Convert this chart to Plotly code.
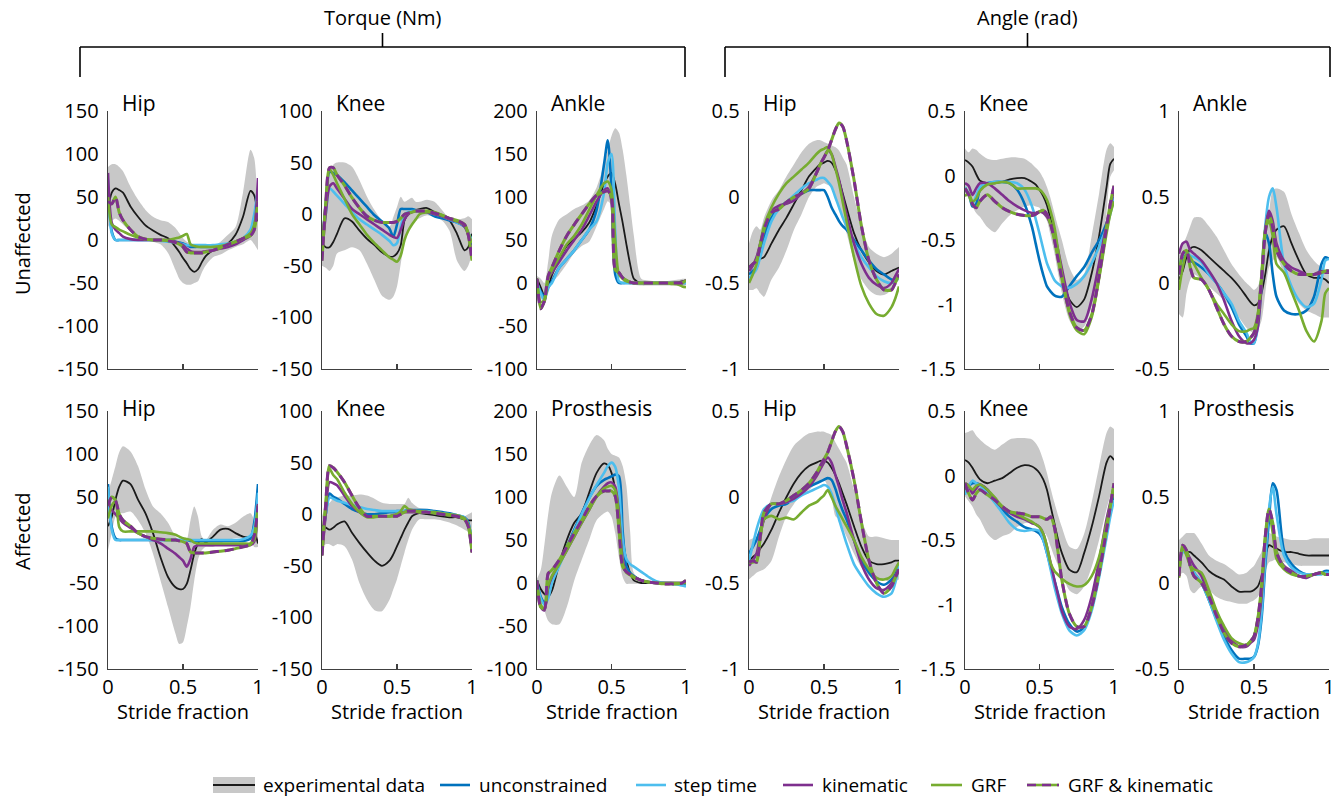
import plotly.graph_objects as go

W, H = 1343, 798
FONT = "Open Sans"

# ---------------- data ----------------
X = [0, .025, .05, .075, .1, .15, .2, .25, .3, .35, .4, .45, .475, .5, .525, .55,
     .575, .6, .625, .65, .7, .75, .8, .85, .9, .95, .975, 1]

# Unaffected hip torque (Nm)
U_HIP_T_UP = [85, 88, 88, 85, 80, 62, 47, 35, 27, 23, 21, 14, 8, 2, -2, -4, -8, -10, -9, -8, -8, -2, 6, 15, 55, 105, 95, 20]
U_HIP_T_LO = [15, 22, 25, 22, 18, 10, 5, 2, -2, -5, -15, -35, -45, -50, -52, -52, -50, -48, -38, -30, -20, -17, -12, -8, -5, 0, -5, -12]
U_HIP_T_EXP = [35, 55, 60, 58, 55, 39, 27, 17, 11, 6, 2, -8, -14, -21, -27, -34, -37, -34, -26, -19, -12, -8, -4, 6, 27, 57, 52, 22]
U_HIP_T_UNC = [60, 10, 0, 0, 0, 0, 0, 0, 0, 0, -1, -2, -3, -4, -6, -8, -8, -8, -8, -8, -8, -7, -5, -3, 0, 8, 25, 55]
U_HIP_T_STEP = [70, 8, 0, 0, 0, 0, 0, 0, 0, -1, -2, -3, -4, -5, -6, -6, -6, -6, -6, -6, -6, -5, -4, -2, 2, 12, 30, 60]
U_HIP_T_KIN = [78, 20, 12, 8, 4, 1, 0, 0, 0, 0, 0, -2, -4, -6, -10, -13, -14, -14, -14, -13, -12, -10, -8, -5, 0, 5, 15, 72]
U_HIP_T_GRF = [50, 18, 15, 12, 10, 6, 3, 1, 0, 0, 0, 2, 3, 5, 7, -5, -7, -8, -8, -8, -8, -7, -5, -2, 2, 8, 18, 45]
U_HIP_T_GK = [45, 42, 50, 32, 23, 12, 4, 1, 0, 0, -1, -3, -5, -8, -14, -15, -15, -15, -15, -14, -12, -9, -5, -2, 2, 5, 12, 45]

# Unaffected knee torque
U_KNEE_T_UP = [-15, 15, 40, 48, 50, 50, 46, 33, 17, 4, -6, -12, -3, 7, 17, 12, 14, 16, 12, 12, 14, 12, 4, -4, -5, -4, -2, -5]
U_KNEE_T_LO = [-50, -52, -55, -50, -38, -35, -32, -35, -48, -64, -79, -83, -80, -70, -48, -25, -15, -9, -6, -4, -1, -3, -6, -16, -45, -55, -50, -38]
U_KNEE_T_EXP = [-28, -32, -32, -27, -19, -4, -7, -16, -24, -30, -37, -41, -41, -38, -30, -6, 0, 2, 4, 5, 6, 2, -1, -6, -19, -35, -32, -19]
U_KNEE_T_UNC = [-30, 10, 41, 40, 38, 31, 23, 15, 7, -1, -7, -14, -22, -10, 5, 5, 5, 5, 4, 3, 2, -2, -4, -6, -8, -12, -18, -30]
U_KNEE_T_STEP = [-30, 0, 25, 22, 18, 10, 2, -5, -10, -15, -20, -26, -30, -28, -12, 0, 2, 3, 3, 3, 2, 0, -2, -5, -8, -12, -18, -25]
U_KNEE_T_KIN = [-40, 0, 27, 30, 25, 15, 5, 0, -5, -10, -15, -20, -22, -23, -15, -5, 0, 2, 3, 3, 2, 0, -2, -5, -7, -12, -20, -40]
U_KNEE_T_GRF = [-30, 10, 44, 38, 30, 15, 0, -10, -20, -28, -35, -42, -44, -46, -40, -25, -16, -10, -5, 0, 2, 2, -1, -4, -7, -10, -18, -28]
U_KNEE_T_GK = [-45, 10, 45, 45, 38, 28, 16, 6, -2, -6, -8, -8, -8, -7, -4, 0, 1, 2, 3, 3, 3, 1, -1, -4, -6, -10, -20, -45]

# Unaffected ankle torque
U_ANK_T_UP = [8, 5, 0, 25, 55, 74, 80, 86, 90, 96, 111, 138, 155, 171, 180, 175, 155, 125, 90, 55, 5, 3, 2, 2, 3, 4, 5, 5]
U_ANK_T_LO = [-8, -18, -22, -12, 0, 10, 22, 35, 43, 48, 66, 86, 95, 90, 60, 15, 3, 0, -2, -2, -3, -3, -3, -3, -3, -3, -3, -3]
U_ANK_T_EXP = [5, -5, -15, -5, 9, 28, 43, 51, 59, 70, 90, 115, 124, 128, 115, 92, 70, 45, 22, 5, 0, 0, 0, 0, 0, 1, 2, 3]
U_ANK_T_UNC = [0, -10, -15, -5, 2, 18, 28, 38, 50, 62, 85, 138, 166, 110, 10, 0, 0, 0, 0, 0, 0, 0, 0, 0, 0, 0, 0, 0]
U_ANK_T_STEP = [0, -12, -20, -5, 0, 18, 28, 38, 50, 62, 72, 105, 140, 150, 60, 2, 0, 0, 0, 0, 0, 0, 0, 0, 0, 0, 0, 0]
U_ANK_T_KIN = [0, -28, -22, 5, 12, 25, 38, 50, 62, 78, 95, 108, 110, 95, 18, 12, 6, 3, 1, 0, 0, 0, 0, 0, 0, 0, 1, 3]
U_ANK_T_GRF = [0, -22, -20, 5, 15, 30, 45, 55, 68, 85, 102, 116, 118, 108, 50, 10, 5, 2, 1, 0, 0, 0, 0, 0, -1, -2, -4, -5]
U_ANK_T_GK = [5, -30, -20, 8, 18, 38, 55, 68, 80, 92, 102, 106, 107, 100, 15, 12, 6, 3, 1, 0, 0, 0, 0, 0, 0, 0, 0, 3]

# Unaffected hip angle (rad)
U_HIP_A_UP = [-0.27, -0.2, -0.17, -0.19, -0.12, -0.02, 0.04, 0.12, 0.19, 0.26, 0.31, 0.33, 0.33, 0.32, 0.31, 0.3, 0.29, 0.27, 0.23, 0.19, 0.0, -0.17, -0.29, -0.33, -0.35, -0.33, -0.31, -0.29]
U_HIP_A_LO = [-0.54, -0.54, -0.53, -0.56, -0.58, -0.48, -0.41, -0.31, -0.19, -0.1, 0.0, 0.06, 0.07, 0.08, 0.07, 0.06, 0.0, -0.06, -0.13, -0.21, -0.37, -0.48, -0.54, -0.57, -0.57, -0.54, -0.51, -0.48]
U_HIP_A_EXP = [-0.41, -0.39, -0.37, -0.36, -0.35, -0.27, -0.19, -0.12, -0.04, 0.04, 0.12, 0.17, 0.19, 0.2, 0.21, 0.2, 0.16, 0.1, 0.02, -0.06, -0.21, -0.31, -0.38, -0.43, -0.45, -0.43, -0.42, -0.41]
U_HIP_A_UNC = [-0.45, -0.43, -0.41, -0.32, -0.23, -0.12, -0.06, -0.03, 0.0, 0.02, 0.04, 0.04, 0.04, 0.04, 0.0, -0.06, -0.1, -0.14, -0.17, -0.19, -0.25, -0.31, -0.37, -0.42, -0.45, -0.48, -0.48, -0.47]
U_HIP_A_STEP = [-0.47, -0.45, -0.42, -0.35, -0.27, -0.14, -0.07, -0.03, 0.01, 0.05, 0.08, 0.1, 0.11, 0.11, 0.09, 0.06, 0.0, -0.06, -0.12, -0.17, -0.27, -0.35, -0.41, -0.46, -0.49, -0.5, -0.49, -0.47]
U_HIP_A_KIN = [-0.43, -0.4, -0.35, -0.27, -0.19, -0.08, -0.05, -0.04, -0.02, 0.02, 0.06, 0.14, 0.19, 0.23, 0.27, 0.25, 0.18, 0.1, 0.0, -0.1, -0.27, -0.39, -0.47, -0.51, -0.53, -0.5, -0.46, -0.42]
U_HIP_A_GRF = [-0.5, -0.45, -0.39, -0.27, -0.17, -0.06, 0.02, 0.08, 0.12, 0.16, 0.2, 0.25, 0.27, 0.28, 0.29, 0.25, 0.17, 0.08, -0.03, -0.14, -0.35, -0.52, -0.62, -0.68, -0.69, -0.64, -0.59, -0.52]
U_HIP_A_GK = [-0.41, -0.39, -0.37, -0.28, -0.19, -0.09, -0.07, -0.03, 0.0, 0.02, 0.05, 0.14, 0.19, 0.23, 0.27, 0.33, 0.39, 0.43, 0.41, 0.33, 0.1, -0.17, -0.37, -0.48, -0.54, -0.54, -0.5, -0.45]

# Unaffected knee angle
U_KNEE_A_UP = [0.21, 0.18, 0.21, 0.2, 0.17, 0.13, 0.12, 0.13, 0.14, 0.14, 0.13, 0.09, 0.06, 0.03, -0.02, -0.09, -0.18, -0.29, -0.4, -0.5, -0.71, -0.81, -0.76, -0.47, -0.14, 0.2, 0.25, 0.22]
U_KNEE_A_LO = [-0.14, -0.16, -0.24, -0.29, -0.32, -0.4, -0.44, -0.37, -0.31, -0.27, -0.24, -0.23, -0.24, -0.25, -0.3, -0.35, -0.47, -0.6, -0.76, -0.91, -1.12, -1.2, -1.17, -1.02, -0.76, -0.29, -0.01, 0.04]
U_KNEE_A_EXP = [0.12, 0.1, 0.07, 0.01, -0.04, -0.06, -0.06, -0.05, -0.03, -0.02, -0.02, -0.05, -0.07, -0.11, -0.16, -0.23, -0.34, -0.47, -0.62, -0.76, -0.96, -1.02, -0.96, -0.76, -0.47, -0.09, 0.09, 0.13]
U_KNEE_A_UNC = [-0.11, -0.14, -0.24, -0.22, -0.11, -0.06, -0.05, -0.05, -0.06, -0.11, -0.22, -0.4, -0.53, -0.66, -0.77, -0.86, -0.9, -0.93, -0.94, -0.94, -0.86, -0.78, -0.71, -0.6, -0.5, -0.37, -0.27, -0.17]
U_KNEE_A_STEP = [-0.09, -0.14, -0.22, -0.16, -0.09, -0.06, -0.05, -0.05, -0.05, -0.06, -0.11, -0.24, -0.34, -0.45, -0.57, -0.68, -0.75, -0.81, -0.84, -0.86, -0.87, -0.84, -0.78, -0.68, -0.55, -0.4, -0.3, -0.17]
U_KNEE_A_KIN = [-0.06, -0.08, -0.15, -0.1, -0.06, -0.06, -0.1, -0.15, -0.2, -0.24, -0.27, -0.29, -0.29, -0.28, -0.29, -0.32, -0.38, -0.45, -0.58, -0.72, -0.98, -1.12, -1.13, -0.96, -0.68, -0.38, -0.25, -0.1]
U_KNEE_A_GRF = [-0.16, -0.14, -0.2, -0.18, -0.12, -0.07, -0.06, -0.05, -0.06, -0.1, -0.1, -0.1, -0.1, -0.11, -0.14, -0.19, -0.28, -0.4, -0.58, -0.76, -1.07, -1.2, -1.23, -1.1, -0.8, -0.45, -0.3, -0.2]
U_KNEE_A_GK = [-0.1, -0.15, -0.22, -0.25, -0.2, -0.15, -0.2, -0.25, -0.28, -0.3, -0.31, -0.31, -0.3, -0.28, -0.27, -0.3, -0.38, -0.5, -0.65, -0.8, -1.05, -1.18, -1.2, -1.08, -0.78, -0.4, -0.22, -0.08]

# Unaffected ankle angle
U_ANK_A_UP = [0.17, 0.22, 0.27, 0.33, 0.38, 0.38, 0.33, 0.27, 0.19, 0.11, 0.05, 0.0, -0.02, -0.04, -0.02, 0.05, 0.2, 0.4, 0.54, 0.55, 0.53, 0.4, 0.29, 0.19, 0.13, 0.09, 0.07, 0.05]
U_ANK_A_LO = [-0.18, -0.2, -0.06, 0.02, 0.05, 0.02, -0.02, -0.06, -0.1, -0.14, -0.2, -0.26, -0.28, -0.29, -0.27, -0.22, -0.06, 0.09, 0.13, 0.15, 0.05, -0.04, -0.12, -0.16, -0.18, -0.2, -0.2, -0.2]
U_ANK_A_EXP = [0.02, 0.07, 0.15, 0.2, 0.21, 0.19, 0.15, 0.11, 0.07, 0.03, -0.02, -0.08, -0.11, -0.13, -0.12, -0.06, 0.05, 0.19, 0.27, 0.31, 0.33, 0.23, 0.13, 0.05, 0.03, 0.03, 0.02, 0.0]
U_ANK_A_UNC = [0.05, 0.15, 0.17, 0.13, 0.12, 0.09, 0.05, 0.0, -0.06, -0.14, -0.24, -0.31, -0.35, -0.35, -0.22, 0.03, 0.29, 0.23, 0.05, -0.08, -0.16, -0.18, -0.18, -0.16, -0.08, 0.11, 0.15, 0.14]
U_ANK_A_STEP = [0.09, 0.16, 0.18, 0.16, 0.15, 0.12, 0.05, 0.0, -0.06, -0.12, -0.22, -0.29, -0.34, -0.35, -0.26, -0.02, 0.33, 0.5, 0.55, 0.44, 0.11, -0.02, -0.1, -0.14, -0.12, 0.02, 0.13, 0.14]
U_ANK_A_KIN = [0.17, 0.23, 0.24, 0.19, 0.17, 0.13, 0.07, 0.0, -0.1, -0.22, -0.31, -0.35, -0.35, -0.33, -0.26, -0.02, 0.31, 0.42, 0.36, 0.23, 0.13, 0.09, 0.07, 0.05, 0.05, 0.07, 0.06, 0.06]
U_ANK_A_GRF = [-0.04, 0.09, 0.17, 0.15, 0.11, 0.03, -0.04, -0.12, -0.18, -0.24, -0.28, -0.28, -0.27, -0.26, -0.18, 0.05, 0.31, 0.36, 0.27, 0.11, 0.06, -0.05, -0.16, -0.28, -0.34, -0.22, -0.06, -0.03]
U_ANK_A_GK = [0.05, 0.17, 0.19, 0.09, 0.03, 0.02, -0.04, -0.14, -0.24, -0.31, -0.34, -0.34, -0.32, -0.29, -0.2, 0.02, 0.29, 0.4, 0.32, 0.19, 0.11, 0.07, 0.05, 0.05, 0.05, 0.06, 0.07, 0.07]

# Affected hip torque
A_HIP_T_UP = [55, 70, 86, 102, 109, 103, 86, 59, 39, 31, 20, 4, 0, -4, 0, 23, 39, 27, 4, 0, 12, 18, 16, 20, 27, 31, 23, 16]
A_HIP_T_LO = [-12, 8, 27, 31, 31, 33, 23, 8, -16, -47, -78, -109, -121, -119, -101, -78, -47, -23, -12, -8, -8, -4, 0, 2, 2, 0, -8, -8]
A_HIP_T_EXP = [16, 27, 47, 62, 69, 65, 47, 31, 8, -20, -43, -55, -57, -57, -51, -35, -16, -4, 1, -3, 4, 12, 13, 8, 4, 4, 8, -4]
A_HIP_T_UNC = [65, 15, 2, 0, 0, 0, 0, 0, 0, 0, 0, 0, 0, 0, 0, -1, -1, -1, -1, -1, -1, -1, -1, -1, -1, 2, 20, 65]
A_HIP_T_STEP = [62, 12, 0, 0, 0, 0, 0, 0, 0, 0, 0, 0, 0, 0, 0, 0, 0, 0, 0, 0, 0, 0, 0, 0, 1, 5, 15, 55]
A_HIP_T_KIN = [45, 35, 30, 25, 20, 14, 8, 4, 0, -4, -10, -16, -20, -24, -31, -22, -8, -6, -6, -6, -6, -6, -6, -6, -6, -6, -2, 42]
A_HIP_T_GRF = [25, 40, 45, 15, 10, 10, 10, 10, 10, 9, 8, 6, 4, 2, 1, 0, -3, -4, -4, -4, -4, -4, -4, -4, -4, -4, 0, 38]
A_HIP_T_GK = [40, 50, 46, 30, 23, 16, 8, 4, 2, 1, 0, 0, -1, -2, -4, -14, -15, -15, -15, -15, -14, -13, -12, -10, -8, -5, 5, 40]

# Affected knee torque
A_KNEE_T_UP = [-2, 8, 11, 15, 16, 18, 18, 19, 18, 15, 11, 10, 10, 10, 10, 10, 16, 11, 8, 6, 5, 3, 2, 2, -2, -2, 0, 2]
A_KNEE_T_LO = [-31, -29, -29, -31, -29, -31, -44, -67, -83, -93, -94, -83, -73, -63, -50, -37, -25, -15, -9, -5, -5, -5, -6, -8, -11, -15, -17, -18]
A_KNEE_T_EXP = [-11, -13, -15, -13, -10, -7, -18, -28, -37, -45, -50, -45, -39, -31, -23, -15, -8, -2, 0, 1, 0, -1, -2, -3, -3, -5, -6, -6]
A_KNEE_T_UNC = [-28, 0, 20, 17, 15, 10, 5, 2, 0, 0, 1, 2, 2, 3, 3, 3, 4, 4, 4, 4, 4, 3, 2, 1, -1, -3, -8, -30]
A_KNEE_T_STEP = [-25, 0, 16, 15, 13, 11, 9, 7, 5, 4, 3, 3, 3, 3, 3, 3, 3, 3, 3, 3, 3, 2, 1, 0, -1, -3, -10, -22]
A_KNEE_T_KIN = [-40, 0, 31, 30, 28, 18, 8, 2, -2, -2, -2, -2, -1, 0, 1, 2, 2, 2, 2, 2, 2, 1, 0, -1, -2, -4, -11, -37]
A_KNEE_T_GRF = [-31, 10, 44, 38, 34, 21, 10, 2, -3, -3, -2, -2, -1, 0, 3, 8, 5, 4, 3, 3, 2, 2, 1, 0, -1, -4, -10, -24]
A_KNEE_T_GK = [-40, 10, 47, 45, 41, 31, 18, 6, -2, -2, -2, -2, -2, -2, 0, 2, 3, 3, 3, 2, 2, 1, 0, -1, -2, -5, -12, -37]

# Affected prosthesis torque
A_PRO_T_UP = [5, 15, 45, 80, 105, 125, 112, 100, 140, 160, 172, 166, 156, 150, 148, 146, 136, 113, 60, 12, 3, 2, 2, 2, 2, 2, 2, 2]
A_PRO_T_LO = [-5, -16, -32, -44, -48, -48, -28, 3, 27, 50, 73, 81, 83, 77, 58, 30, 7, -1, -1, -1, -1, -1, -1, -1, -1, -1, -1, -1]
A_PRO_T_EXP = [3, -7, -13, -16, -9, 23, 50, 70, 81, 105, 128, 139, 137, 128, 109, 81, 50, 27, 11, 3, 0, 0, 0, 0, 0, 0, 0, 0]
A_PRO_T_UNC = [3, -16, -22, -13, 3, 23, 42, 62, 81, 99, 113, 120, 122, 124, 126, 124, 60, 20, 12, 8, 3, 1, 0, 0, 0, -1, -2, -3]
A_PRO_T_STEP = [0, -18, -25, -18, 0, 20, 40, 60, 80, 98, 114, 128, 136, 140, 135, 110, 50, 28, 22, 19, 13, 7, 2, 0, -1, -2, -3, -4]
A_PRO_T_KIN = [1, -28, -32, -5, 7, 23, 38, 54, 70, 85, 101, 112, 116, 117, 112, 81, 27, 13, 10, 7, 3, 1, 0, 0, 0, 0, 0, 3]
A_PRO_T_GRF = [0, -25, -30, -3, 8, 22, 38, 54, 70, 85, 100, 110, 112, 113, 108, 78, 23, 12, 9, 6, 3, 1, 0, 0, 0, 0, 0, 0]
A_PRO_T_GK = [3, -28, -30, 11, 15, 27, 42, 58, 73, 89, 101, 107, 107, 107, 101, 62, 19, 13, 10, 7, 3, 1, 0, -1, -1, -1, 0, 3]

# Affected hip angle
A_HIP_A_UP = [-0.25, -0.24, -0.23, -0.18, -0.13, 0.0, 0.12, 0.22, 0.3, 0.34, 0.37, 0.38, 0.38, 0.38, 0.37, 0.36, 0.32, 0.28, 0.24, 0.2, 0.04, -0.13, -0.23, -0.23, -0.24, -0.25, -0.25, -0.25]
A_HIP_A_LO = [-0.48, -0.46, -0.44, -0.43, -0.42, -0.37, -0.23, -0.11, -0.04, 0.01, 0.04, 0.08, 0.09, 0.1, 0.06, 0.0, -0.11, -0.13, -0.18, -0.23, -0.33, -0.41, -0.46, -0.48, -0.48, -0.5, -0.49, -0.48]
A_HIP_A_EXP = [-0.37, -0.35, -0.33, -0.3, -0.27, -0.19, -0.09, 0.0, 0.08, 0.14, 0.18, 0.2, 0.21, 0.21, 0.2, 0.17, 0.13, 0.08, 0.02, -0.04, -0.17, -0.29, -0.37, -0.39, -0.39, -0.38, -0.37, -0.37]
A_HIP_A_UNC = [-0.33, -0.29, -0.25, -0.19, -0.13, -0.07, -0.05, -0.04, 0.0, 0.04, 0.06, 0.08, 0.09, 0.1, 0.11, 0.1, 0.05, -0.02, -0.08, -0.13, -0.25, -0.37, -0.44, -0.49, -0.51, -0.48, -0.45, -0.4]
A_HIP_A_STEP = [-0.37, -0.28, -0.19, -0.12, -0.07, -0.04, -0.04, -0.03, -0.02, 0.01, 0.03, 0.05, 0.06, 0.07, 0.06, 0.02, -0.05, -0.13, -0.2, -0.27, -0.39, -0.46, -0.52, -0.56, -0.58, -0.56, -0.5, -0.4]
A_HIP_A_KIN = [-0.4, -0.37, -0.33, -0.22, -0.13, -0.04, -0.04, -0.03, -0.01, 0.02, 0.06, 0.12, 0.16, 0.2, 0.23, 0.2, 0.13, 0.06, -0.02, -0.09, -0.25, -0.39, -0.48, -0.53, -0.54, -0.5, -0.46, -0.42]
A_HIP_A_GRF = [-0.38, -0.38, -0.37, -0.25, -0.13, -0.11, -0.13, -0.12, -0.13, -0.09, -0.05, -0.03, -0.01, 0.01, 0.04, 0.0, -0.05, -0.09, -0.13, -0.17, -0.25, -0.35, -0.42, -0.47, -0.48, -0.46, -0.42, -0.38]
A_HIP_A_GK = [-0.38, -0.37, -0.38, -0.23, -0.09, -0.04, -0.04, -0.02, 0.01, 0.04, 0.08, 0.14, 0.18, 0.22, 0.26, 0.32, 0.38, 0.41, 0.38, 0.3, 0.1, -0.15, -0.37, -0.5, -0.56, -0.52, -0.47, -0.42]

# Affected knee angle
A_KNEE_A_UP = [0.33, 0.34, 0.35, 0.31, 0.28, 0.23, 0.2, 0.24, 0.28, 0.29, 0.29, 0.28, 0.25, 0.2, 0.12, 0.02, -0.1, -0.21, -0.31, -0.4, -0.55, -0.57, -0.45, -0.21, 0.07, 0.33, 0.38, 0.36]
A_KNEE_A_LO = [-0.16, -0.2, -0.24, -0.3, -0.34, -0.45, -0.5, -0.47, -0.45, -0.4, -0.37, -0.37, -0.38, -0.4, -0.43, -0.47, -0.55, -0.63, -0.7, -0.76, -0.89, -0.92, -0.86, -0.71, -0.5, -0.26, -0.16, -0.11]
A_KNEE_A_EXP = [0.12, 0.1, 0.06, 0.01, -0.03, -0.06, -0.04, -0.02, 0.02, 0.06, 0.08, 0.07, 0.05, 0.02, -0.03, -0.11, -0.24, -0.37, -0.5, -0.6, -0.73, -0.75, -0.6, -0.4, -0.16, 0.1, 0.15, 0.12]
A_KNEE_A_UNC = [-0.11, -0.08, -0.06, -0.06, -0.07, -0.11, -0.19, -0.26, -0.32, -0.36, -0.4, -0.42, -0.43, -0.45, -0.5, -0.6, -0.71, -0.81, -0.92, -1.02, -1.15, -1.21, -1.18, -1.02, -0.73, -0.4, -0.26, -0.16]
A_KNEE_A_STEP = [-0.15, -0.08, -0.04, -0.06, -0.08, -0.14, -0.21, -0.29, -0.37, -0.42, -0.43, -0.42, -0.42, -0.43, -0.5, -0.6, -0.73, -0.86, -0.97, -1.07, -1.2, -1.24, -1.2, -1.05, -0.79, -0.48, -0.32, -0.19]
A_KNEE_A_KIN = [-0.06, -0.08, -0.14, -0.1, -0.07, -0.11, -0.19, -0.25, -0.29, -0.32, -0.34, -0.37, -0.38, -0.4, -0.45, -0.55, -0.68, -0.81, -0.93, -1.05, -1.17, -1.19, -1.12, -0.94, -0.66, -0.34, -0.21, -0.08]
A_KNEE_A_GRF = [-0.06, -0.08, -0.11, -0.08, -0.07, -0.11, -0.17, -0.24, -0.28, -0.3, -0.33, -0.36, -0.38, -0.4, -0.45, -0.55, -0.68, -0.74, -0.77, -0.8, -0.84, -0.86, -0.85, -0.78, -0.63, -0.37, -0.24, -0.11]
A_KNEE_A_GK = [-0.06, -0.14, -0.19, -0.14, -0.11, -0.15, -0.19, -0.24, -0.28, -0.29, -0.3, -0.32, -0.32, -0.32, -0.33, -0.34, -0.32, -0.4, -0.6, -0.81, -1.07, -1.17, -1.17, -1.02, -0.76, -0.42, -0.24, -0.06]

# Affected prosthesis angle
A_PRO_A_UP = [0.25, 0.27, 0.29, 0.29, 0.29, 0.23, 0.16, 0.13, 0.11, 0.08, 0.05, 0.06, 0.08, 0.1, 0.14, 0.18, 0.27, 0.29, 0.28, 0.27, 0.26, 0.25, 0.25, 0.25, 0.26, 0.26, 0.26, 0.26]
A_PRO_A_LO = [0.04, 0.06, 0.04, -0.04, -0.06, -0.02, -0.04, -0.08, -0.1, -0.11, -0.12, -0.12, -0.11, -0.1, -0.08, -0.04, 0.06, 0.12, 0.13, 0.14, 0.12, 0.11, 0.1, 0.1, 0.1, 0.1, 0.1, 0.1]
A_PRO_A_EXP = [0.14, 0.18, 0.18, 0.18, 0.16, 0.12, 0.07, 0.04, 0.02, -0.02, -0.05, -0.05, -0.05, -0.04, -0.02, 0.04, 0.16, 0.22, 0.21, 0.2, 0.18, 0.18, 0.17, 0.16, 0.16, 0.16, 0.16, 0.16]
A_PRO_A_UNC = [0.07, 0.19, 0.18, 0.1, 0.06, 0.0, -0.1, -0.21, -0.31, -0.39, -0.44, -0.44, -0.44, -0.43, -0.37, -0.21, 0.1, 0.37, 0.58, 0.54, 0.19, 0.11, 0.07, 0.05, 0.05, 0.06, 0.07, 0.07]
A_PRO_A_STEP = [0.05, 0.18, 0.17, 0.1, 0.06, 0.0, -0.1, -0.22, -0.33, -0.41, -0.46, -0.46, -0.45, -0.43, -0.36, -0.18, 0.14, 0.43, 0.56, 0.4, 0.16, 0.09, 0.06, 0.05, 0.05, 0.05, 0.06, 0.06]
A_PRO_A_KIN = [0.04, 0.21, 0.18, 0.14, 0.1, 0.04, -0.08, -0.18, -0.27, -0.33, -0.37, -0.37, -0.35, -0.33, -0.25, -0.08, 0.25, 0.41, 0.33, 0.18, 0.1, 0.07, 0.04, 0.03, 0.05, 0.06, 0.05, 0.05]
A_PRO_A_GRF = [0.03, 0.21, 0.16, 0.1, 0.08, 0.06, -0.04, -0.16, -0.25, -0.32, -0.35, -0.36, -0.34, -0.31, -0.21, -0.04, 0.27, 0.41, 0.29, 0.14, 0.08, 0.05, 0.04, 0.04, 0.05, 0.06, 0.05, 0.05]
A_PRO_A_GK = [0.04, 0.22, 0.19, 0.1, 0.04, 0.0, -0.08, -0.19, -0.29, -0.35, -0.37, -0.36, -0.34, -0.31, -0.21, -0.02, 0.27, 0.43, 0.35, 0.18, 0.09, 0.06, 0.04, 0.04, 0.05, 0.06, 0.05, 0.05]

PANEL_TITLES = ["Hip", "Knee", "Ankle", "Hip", "Knee", "Ankle",
                "Hip", "Knee", "Prosthesis", "Hip", "Knee", "Prosthesis"]
Y_TICKS = {
    "hipT": [-150, -100, -50, 0, 50, 100, 150],
    "kneeT": [-150, -100, -50, 0, 50, 100],
    "ankT": [-100, -50, 0, 50, 100, 150, 200],
    "hipA": [-1, -0.5, 0, 0.5],
    "kneeA": [-1.5, -1, -0.5, 0, 0.5],
    "ankA": [-0.5, 0, 0.5, 1],
}
X_TICKS = [0, 0.5, 1]
X_TICKTEXT = ["0", "0.5", "1"]
LEGEND_LABELS = ["experimental data", "unconstrained", "step time", "kinematic", "GRF", "GRF & kinematic"]

# ---------------- styling ----------------
C_BAND = "rgb(200,200,200)"
C_EXP = "#1a1a1a"
C_UNC = "#0072BD"
C_STEP = "#4DBEEE"
C_KIN = "#7E2F8E"
C_GRF = "#77AC30"
C_AX = "#404040"
LW = 2.6
DASH = "9px,6px"
SMOOTH = 0.75

COL_PX = [(108, 258), (322, 472), (537, 686), (749, 899), (965, 1114), (1179, 1329)]
ROW_PX = [(111, 369), (411, 669)]
TITLE_Y = [103, 408]


def fx(p):
    return p / W


def fy(p):
    return 1 - p / H


series = [
    (U_HIP_T_UP, U_HIP_T_LO, U_HIP_T_EXP, U_HIP_T_UNC, U_HIP_T_STEP, U_HIP_T_KIN, U_HIP_T_GRF, U_HIP_T_GK, "hipT"),
    (U_KNEE_T_UP, U_KNEE_T_LO, U_KNEE_T_EXP, U_KNEE_T_UNC, U_KNEE_T_STEP, U_KNEE_T_KIN, U_KNEE_T_GRF, U_KNEE_T_GK, "kneeT"),
    (U_ANK_T_UP, U_ANK_T_LO, U_ANK_T_EXP, U_ANK_T_UNC, U_ANK_T_STEP, U_ANK_T_KIN, U_ANK_T_GRF, U_ANK_T_GK, "ankT"),
    (U_HIP_A_UP, U_HIP_A_LO, U_HIP_A_EXP, U_HIP_A_UNC, U_HIP_A_STEP, U_HIP_A_KIN, U_HIP_A_GRF, U_HIP_A_GK, "hipA"),
    (U_KNEE_A_UP, U_KNEE_A_LO, U_KNEE_A_EXP, U_KNEE_A_UNC, U_KNEE_A_STEP, U_KNEE_A_KIN, U_KNEE_A_GRF, U_KNEE_A_GK, "kneeA"),
    (U_ANK_A_UP, U_ANK_A_LO, U_ANK_A_EXP, U_ANK_A_UNC, U_ANK_A_STEP, U_ANK_A_KIN, U_ANK_A_GRF, U_ANK_A_GK, "ankA"),
    (A_HIP_T_UP, A_HIP_T_LO, A_HIP_T_EXP, A_HIP_T_UNC, A_HIP_T_STEP, A_HIP_T_KIN, A_HIP_T_GRF, A_HIP_T_GK, "hipT"),
    (A_KNEE_T_UP, A_KNEE_T_LO, A_KNEE_T_EXP, A_KNEE_T_UNC, A_KNEE_T_STEP, A_KNEE_T_KIN, A_KNEE_T_GRF, A_KNEE_T_GK, "kneeT"),
    (A_PRO_T_UP, A_PRO_T_LO, A_PRO_T_EXP, A_PRO_T_UNC, A_PRO_T_STEP, A_PRO_T_KIN, A_PRO_T_GRF, A_PRO_T_GK, "ankT"),
    (A_HIP_A_UP, A_HIP_A_LO, A_HIP_A_EXP, A_HIP_A_UNC, A_HIP_A_STEP, A_HIP_A_KIN, A_HIP_A_GRF, A_HIP_A_GK, "hipA"),
    (A_KNEE_A_UP, A_KNEE_A_LO, A_KNEE_A_EXP, A_KNEE_A_UNC, A_KNEE_A_STEP, A_KNEE_A_KIN, A_KNEE_A_GRF, A_KNEE_A_GK, "kneeA"),
    (A_PRO_A_UP, A_PRO_A_LO, A_PRO_A_EXP, A_PRO_A_UNC, A_PRO_A_STEP, A_PRO_A_KIN, A_PRO_A_GRF, A_PRO_A_GK, "ankA"),
]

for si, s in enumerate(series):
    for arr in s[:8]:
        assert len(arr) == len(X), (si, len(arr))

fig = go.Figure()
layout = dict(
    template="none",
    width=W, height=H, margin=dict(l=0, r=0, t=0, b=0, pad=0, autoexpand=False),
    paper_bgcolor="white", plot_bgcolor="rgba(0,0,0,0)",
    showlegend=False, font=dict(family=FONT, color="black", size=20),
)
annotations = []
shapes = []


def fmt(v):
    return "%g" % v


for k, s in enumerate(series):
    up, lo, exp, unc, stp, kin, grf, gk, tk = s
    row, col = divmod(k, 6)
    n = k + 1
    xa = "x" if n == 1 else "x%d" % n
    ya = "y" if n == 1 else "y%d" % n
    common = dict(x=X, xaxis=xa, yaxis=ya, mode="lines", hoverinfo="skip", showlegend=False)

    fig.add_trace(go.Scatter(y=lo, line=dict(width=0, shape="spline", smoothing=SMOOTH, color=C_BAND), **common))
    fig.add_trace(go.Scatter(y=up, line=dict(width=0, shape="spline", smoothing=SMOOTH, color=C_BAND),
                             fill="tonexty", fillcolor=C_BAND, **common))
    fig.add_trace(go.Scatter(y=exp, line=dict(width=1.8, shape="spline", smoothing=SMOOTH, color=C_EXP), **common))
    fig.add_trace(go.Scatter(y=unc, line=dict(width=LW, shape="spline", smoothing=SMOOTH, color=C_UNC), **common))
    fig.add_trace(go.Scatter(y=stp, line=dict(width=LW, shape="spline", smoothing=SMOOTH, color=C_STEP), **common))
    fig.add_trace(go.Scatter(y=kin, line=dict(width=LW, shape="spline", smoothing=SMOOTH, color=C_KIN), **common))
    fig.add_trace(go.Scatter(y=grf, line=dict(width=LW, shape="spline", smoothing=SMOOTH, color=C_GRF), **common))
    fig.add_trace(go.Scatter(y=gk, line=dict(width=LW + 0.4, shape="spline", smoothing=SMOOTH, color=C_GRF), **common))
    fig.add_trace(go.Scatter(y=gk, line=dict(width=LW + 0.4, shape="spline", smoothing=SMOOTH, color=C_KIN, dash=DASH), **common))

    x0, x1 = COL_PX[col]
    y0, y1 = ROW_PX[row]
    yt = Y_TICKS[tk]
    layout["xaxis" if n == 1 else "xaxis%d" % n] = dict(
        domain=[fx(x0), fx(x1)], range=[0, 1], anchor=ya, showline=True, linecolor=C_AX, linewidth=1.4,
        ticks="inside", ticklen=5, tickwidth=1.4, tickcolor=C_AX, tickvals=X_TICKS, ticktext=X_TICKTEXT,
        showticklabels=(row == 1), showgrid=False, zeroline=False, fixedrange=True, automargin=False,
        tickfont=dict(size=20, family=FONT, color="black"), ticklabelstandoff=0,
    )
    layout["yaxis" if n == 1 else "yaxis%d" % n] = dict(
        domain=[fy(y1), fy(y0)], range=[yt[0], yt[-1]], anchor=xa, showline=True, linecolor=C_AX, linewidth=1.4,
        ticks="", tickvals=yt, ticktext=[fmt(v) for v in yt], showgrid=False, zeroline=False, fixedrange=True,
        automargin=False, tickfont=dict(size=20, family=FONT, color="black"), ticklabelstandoff=4,
    )
    annotations.append(dict(text=PANEL_TITLES[k], xref="paper", yref="paper", x=fx(x0 + 12), y=fy(TITLE_Y[row]),
                            xanchor="left", yanchor="middle", showarrow=False, font=dict(size=21)))
    if row == 1:
        annotations.append(dict(text="Stride fraction", xref="paper", yref="paper", x=fx((x0 + x1) / 2),
                                y=fy(y1 + 42), xanchor="center", yanchor="middle", showarrow=False,
                                font=dict(size=20)))

# row labels
annotations.append(dict(text="Unaffected", xref="paper", yref="paper", x=fx(22), y=fy(244), textangle=-90,
                        showarrow=False, xanchor="center", yanchor="middle", font=dict(size=20)))
annotations.append(dict(text="Affected", xref="paper", yref="paper", x=fx(22), y=fy(531), textangle=-90,
                        showarrow=False, xanchor="center", yanchor="middle", font=dict(size=20)))

# group headers with brackets
for label, xl, xr in [("Torque (Nm)", 80, 685), ("Angle (rad)", 725, 1330)]:
    xc = (xl + xr) / 2
    annotations.append(dict(text=label, xref="paper", yref="paper", x=fx(xc), y=fy(18), showarrow=False,
                            xanchor="center", yanchor="middle", font=dict(size=20)))
    for (ax0, ay0, ax1, ay1) in [(xl, 47, xr, 47), (xl, 47, xl, 77), (xr, 47, xr, 77), (xc, 33, xc, 47)]:
        shapes.append(dict(type="line", xref="paper", yref="paper", x0=fx(ax0), y0=fy(ay0), x1=fx(ax1), y1=fy(ay1),
                           line=dict(color="black", width=1.6)))

# legend (drawn by hand)
LY = 785
shapes.append(dict(type="rect", xref="paper", yref="paper", x0=fx(213), x1=fx(255), y0=fy(793), y1=fy(777),
                   fillcolor=C_BAND, line=dict(width=0)))
shapes.append(dict(type="line", xref="paper", yref="paper", x0=fx(213), x1=fx(255), y0=fy(LY), y1=fy(LY),
                   line=dict(color=C_EXP, width=1.8)))
leg_items = [
    (440, 470, C_UNC, None),
    (636, 666, C_STEP, None),
    (783, 813, C_KIN, None),
    (931, 962, C_GRF, None),
    (1027, 1059, C_GRF, C_KIN),
]
for (lx0, lx1, c, c2) in leg_items:
    shapes.append(dict(type="line", xref="paper", yref="paper", x0=fx(lx0), x1=fx(lx1), y0=fy(LY), y1=fy(LY),
                       line=dict(color=c, width=LW)))
    if c2:
        shapes.append(dict(type="line", xref="paper", yref="paper", x0=fx(lx0), x1=fx(lx1), y0=fy(LY), y1=fy(LY),
                           line=dict(color=c2, width=LW, dash=DASH)))
leg_text_x = [261, 477, 672, 820, 969, 1066]
for lab, tx in zip(LEGEND_LABELS, leg_text_x):
    annotations.append(dict(text=lab, xref="paper", yref="paper", x=fx(tx), y=fy(LY), showarrow=False,
                            xanchor="left", yanchor="middle", font=dict(size=19)))

layout["annotations"] = annotations
layout["shapes"] = shapes
fig.update_layout(**layout)
fig.write_html(
    "out.html",
    config={"displayModeBar": False, "staticPlot": True},
    post_script="document.body.style.margin='0';document.body.style.padding='0';"
                "document.body.style.overflow='hidden';",
)
